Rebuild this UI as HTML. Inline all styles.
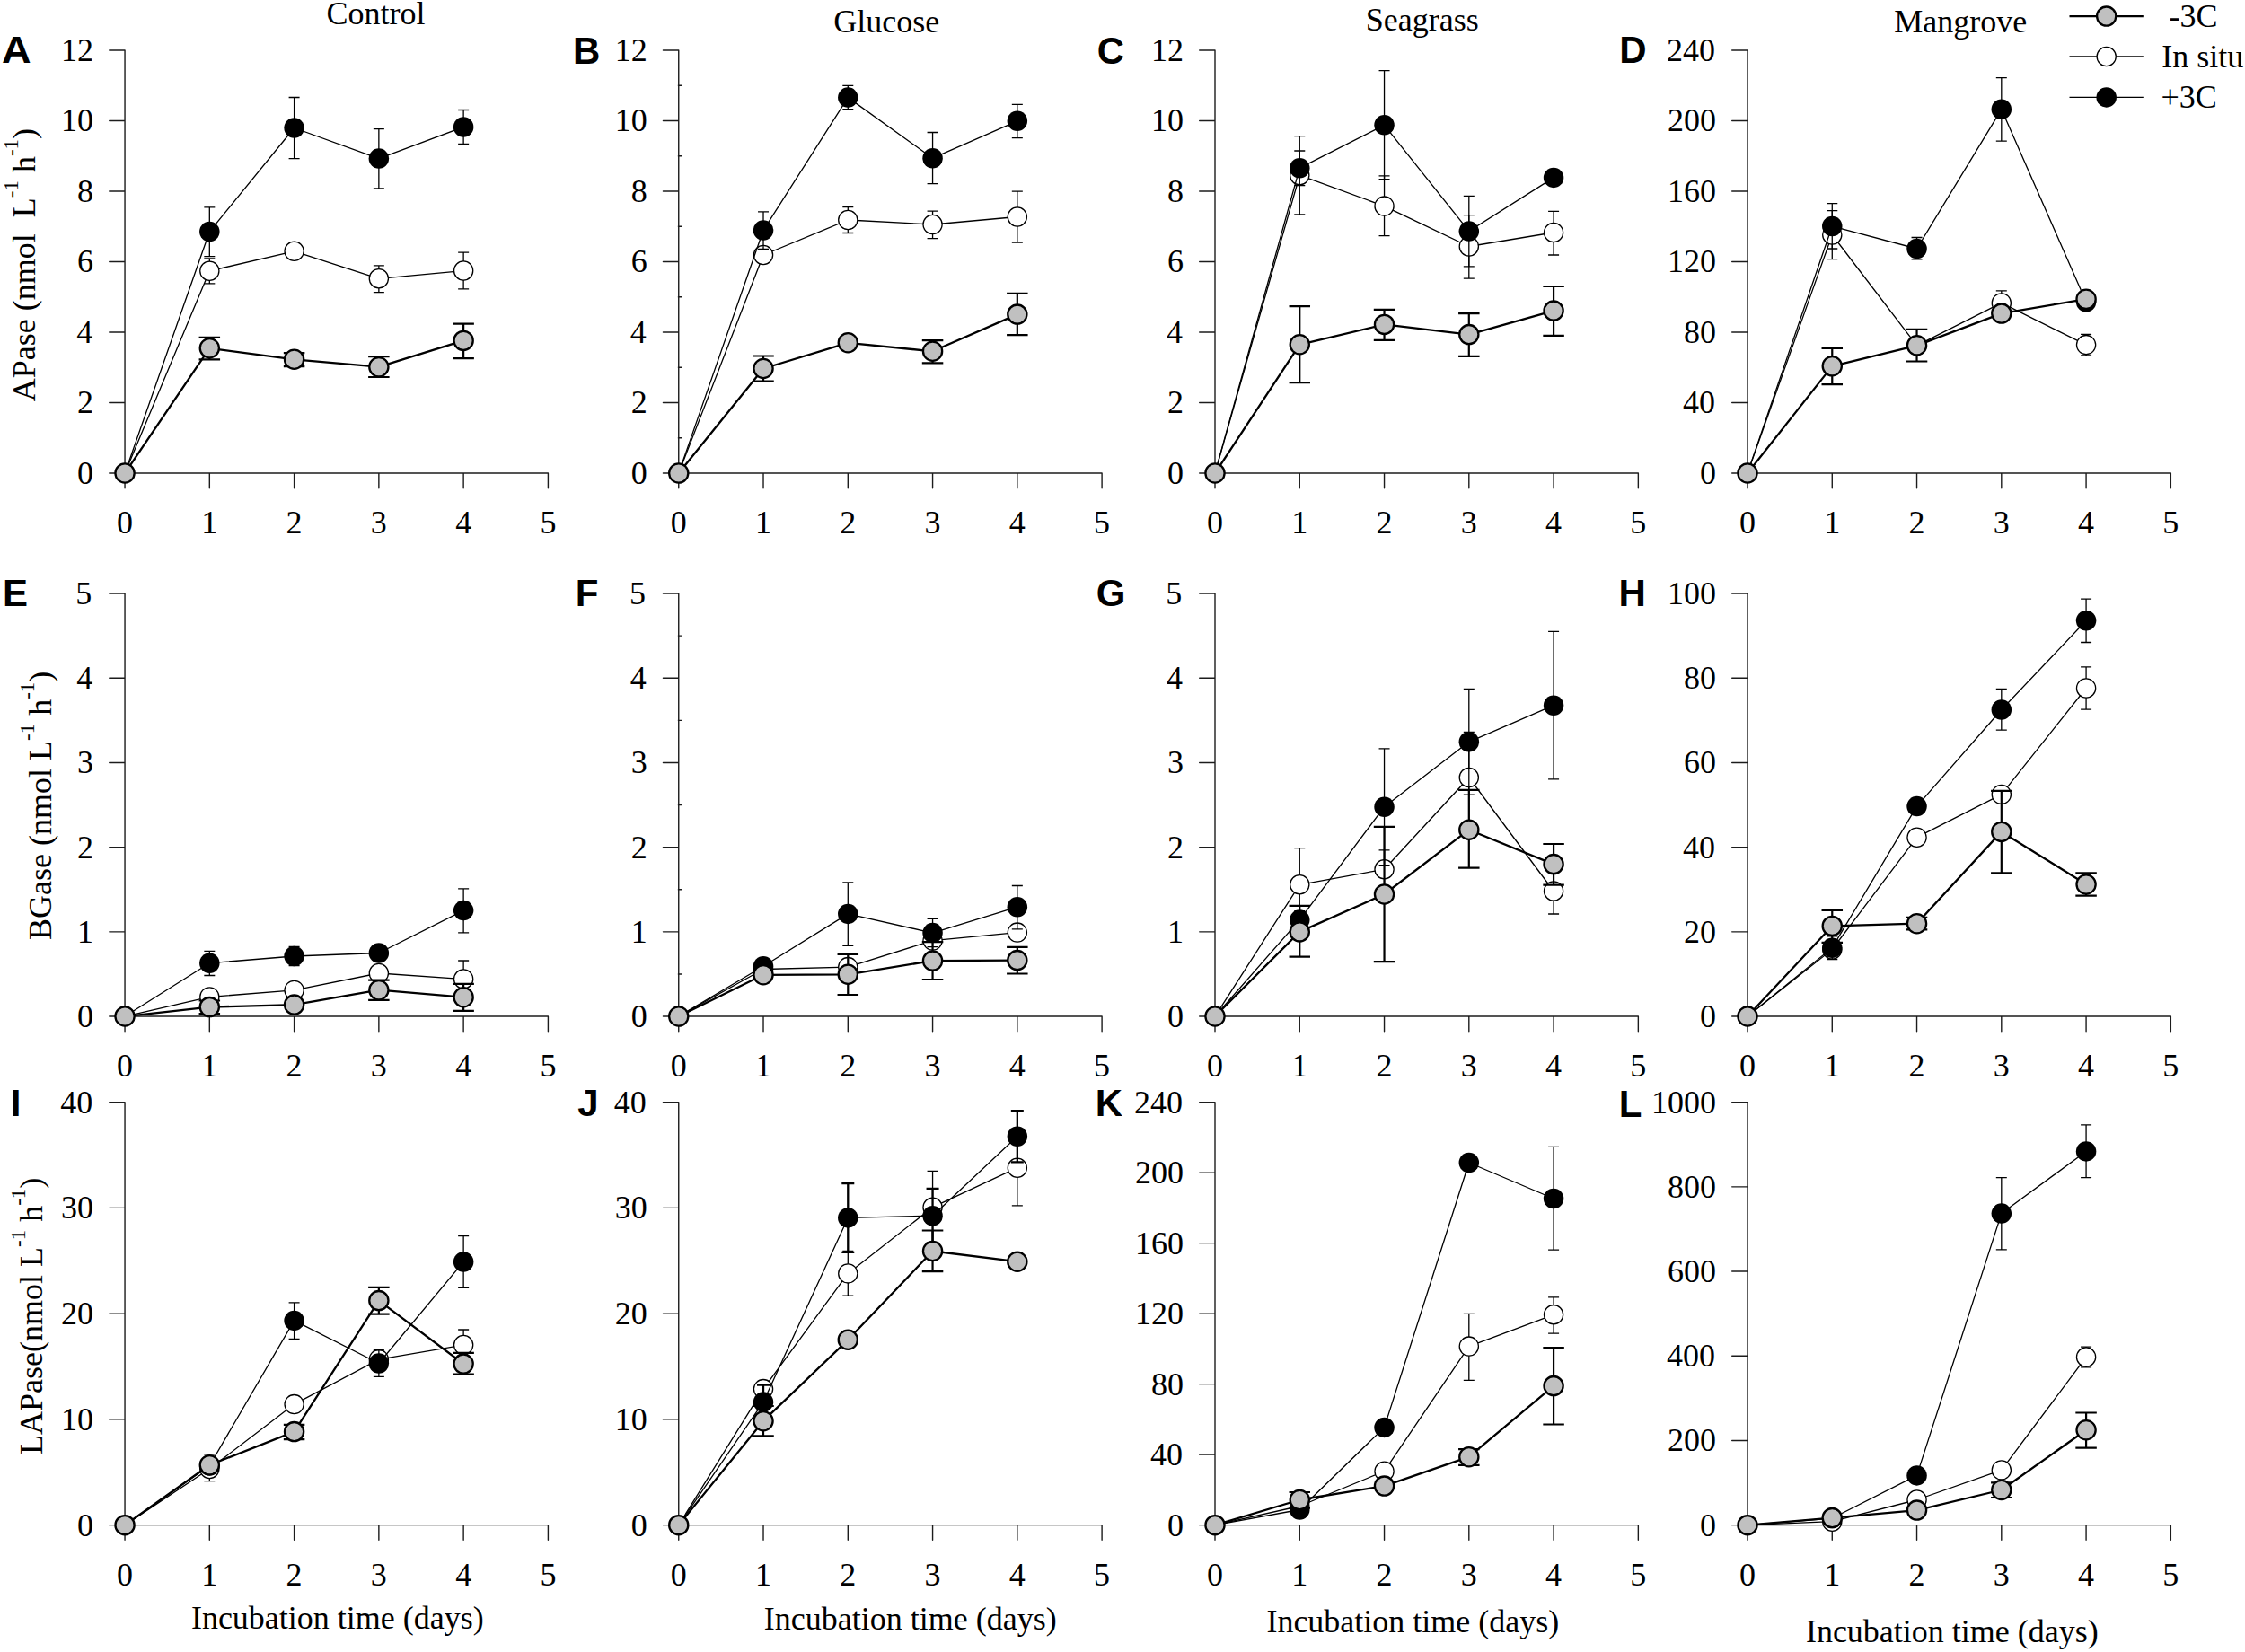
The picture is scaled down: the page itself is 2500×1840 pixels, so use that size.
<!DOCTYPE html>
<html lang="en"><head><meta charset="utf-8"><title>Enzyme activities</title>
<style>html,body{margin:0;padding:0;background:#fff}svg{display:block}text{font-family:'Liberation Serif', 'Times New Roman', Times, serif;font-size:36px;fill:#000}.pl{font-family:'Liberation Sans', Arial, Helvetica, sans-serif;font-weight:bold;font-size:42px}</style></head><body>
<svg width="2500" height="1840" viewBox="0 0 2500 1840">
<rect width="2500" height="1840" fill="#fff"/>
<g id="panel-A">
<path d="M139.05 56.05V543.75M121.75 527.05H610.4M121.75 448.55H139.05M121.75 370.05H139.05M121.75 291.55H139.05M121.75 213.05H139.05M121.75 134.55H139.05M121.75 56.05H139.05M233.32 527.05V543.75M327.59 527.05V543.75M421.86 527.05V543.75M516.13 527.05V543.75M610.4 527.05V543.75" fill="none" stroke="#1c1c1c" stroke-width="1.4" stroke-linecap="round" stroke-linejoin="round"/>
<text x="103.95" y="538.95" text-anchor="end">0</text>
<text x="103.95" y="460.45" text-anchor="end">2</text>
<text x="103.15" y="381.95" text-anchor="end">4</text>
<text x="103.95" y="303.45" text-anchor="end">6</text>
<text x="103.95" y="224.95" text-anchor="end">8</text>
<text x="103.95" y="146.45" text-anchor="end">10</text>
<text x="103.95" y="67.95" text-anchor="end">12</text>
<text x="139.05" y="594.35" text-anchor="middle">0</text>
<text x="233.32" y="594.35" text-anchor="middle">1</text>
<text x="327.59" y="594.35" text-anchor="middle">2</text>
<text x="421.86" y="594.35" text-anchor="middle">3</text>
<text x="516.13" y="594.35" text-anchor="middle">4</text>
<text x="610.4" y="594.35" text-anchor="middle">5</text>
<polyline points="139.05,527.05 233.32,301.8 327.59,279.8 421.86,310.3 516.13,301.5" fill="none" stroke="#000" stroke-width="1.3" stroke-linejoin="round"/>
<path d="M233.32 288V315.8M227.32 288H239.32M227.32 315.8H239.32M421.86 295.9V325.6M415.86 295.9H427.86M415.86 325.6H427.86M516.13 281.2V321.9M510.13 281.2H522.13M510.13 321.9H522.13" fill="none" stroke="#000" stroke-width="1.3"/>
<circle cx="233.32" cy="301.8" r="10.6" fill="#fff" stroke="#000" stroke-width="1.3"/>
<circle cx="327.59" cy="279.8" r="10.6" fill="#fff" stroke="#000" stroke-width="1.3"/>
<circle cx="421.86" cy="310.3" r="10.6" fill="#fff" stroke="#000" stroke-width="1.3"/>
<circle cx="516.13" cy="301.5" r="10.6" fill="#fff" stroke="#000" stroke-width="1.3"/>
<path d="M233.32 375.8V400.4M221.57 375.8H245.07M221.57 400.4H245.07M327.59 393.1V408.2M315.84 393.1H339.34M315.84 408.2H339.34M421.86 397.2V420M410.11 397.2H433.61M410.11 420H433.61M516.13 360.6V399.1M504.38 360.6H527.88M504.38 399.1H527.88" fill="none" stroke="#000" stroke-width="2.2"/>
<polyline points="139.05,527.05 233.32,258 327.59,142.5 421.86,176.6 516.13,141.5" fill="none" stroke="#000" stroke-width="1.3" stroke-linejoin="round"/>
<path d="M233.32 230.8V285.7M227.32 230.8H239.32M227.32 285.7H239.32M327.59 108.5V176.6M321.59 108.5H333.59M321.59 176.6H333.59M421.86 143.6V209.9M415.86 143.6H427.86M415.86 209.9H427.86M516.13 122.5V160.4M510.13 122.5H522.13M510.13 160.4H522.13" fill="none" stroke="#000" stroke-width="1.3"/>
<circle cx="233.32" cy="258" r="11.25" fill="#000"/>
<circle cx="327.59" cy="142.5" r="11.25" fill="#000"/>
<circle cx="421.86" cy="176.6" r="11.25" fill="#000"/>
<circle cx="516.13" cy="141.5" r="11.25" fill="#000"/>
<polyline points="139.05,527.05 233.32,387.8 327.59,400.3 421.86,408.7 516.13,379.4" fill="none" stroke="#000" stroke-width="2.3" stroke-linejoin="round"/>
<circle cx="139.05" cy="527.05" r="10.6" fill="#c0c0c0" stroke="#000" stroke-width="2.3"/>
<circle cx="233.32" cy="387.8" r="10.6" fill="#c0c0c0" stroke="#000" stroke-width="2.3"/>
<circle cx="327.59" cy="400.3" r="10.6" fill="#c0c0c0" stroke="#000" stroke-width="2.3"/>
<circle cx="421.86" cy="408.7" r="10.6" fill="#c0c0c0" stroke="#000" stroke-width="2.3"/>
<circle cx="516.13" cy="379.4" r="10.6" fill="#c0c0c0" stroke="#000" stroke-width="2.3"/>
<text class="pl" x="2" y="70.4" textLength="32.6" lengthAdjust="spacingAndGlyphs">A</text>
</g>
<g id="panel-B">
<path d="M755.75 56.05V543.75M738.45 527.05H1227.1M738.45 448.55H755.75M738.45 370.05H755.75M738.45 291.55H755.75M738.45 213.05H755.75M738.45 134.55H755.75M738.45 56.05H755.75M850.02 527.05V543.75M944.29 527.05V543.75M1038.56 527.05V543.75M1132.83 527.05V543.75M1227.1 527.05V543.75" fill="none" stroke="#1c1c1c" stroke-width="1.4" stroke-linecap="round" stroke-linejoin="round"/>
<path d="M754.85 487.8H759.35M754.85 409.3H759.35M754.85 330.8H759.35M754.85 252.3H759.35M754.85 173.8H759.35M754.85 95.3H759.35" fill="none" stroke="#1c1c1c" stroke-width="1.4"/>
<text x="720.65" y="538.95" text-anchor="end">0</text>
<text x="720.65" y="460.45" text-anchor="end">2</text>
<text x="719.85" y="381.95" text-anchor="end">4</text>
<text x="720.65" y="303.45" text-anchor="end">6</text>
<text x="720.65" y="224.95" text-anchor="end">8</text>
<text x="720.65" y="146.45" text-anchor="end">10</text>
<text x="720.65" y="67.95" text-anchor="end">12</text>
<text x="755.75" y="594.35" text-anchor="middle">0</text>
<text x="850.02" y="594.35" text-anchor="middle">1</text>
<text x="944.29" y="594.35" text-anchor="middle">2</text>
<text x="1038.56" y="594.35" text-anchor="middle">3</text>
<text x="1132.83" y="594.35" text-anchor="middle">4</text>
<text x="1227.1" y="594.35" text-anchor="middle">5</text>
<polyline points="755.75,527.05 850.02,284 944.29,245 1038.56,250 1132.83,241.5" fill="none" stroke="#000" stroke-width="1.3" stroke-linejoin="round"/>
<path d="M944.29 230.6V259.5M938.29 230.6H950.29M938.29 259.5H950.29M1038.56 235.1V265.7M1032.56 235.1H1044.56M1032.56 265.7H1044.56M1132.83 213.1V270.2M1126.83 213.1H1138.83M1126.83 270.2H1138.83" fill="none" stroke="#000" stroke-width="1.3"/>
<circle cx="850.02" cy="284" r="10.6" fill="#fff" stroke="#000" stroke-width="1.3"/>
<circle cx="944.29" cy="245" r="10.6" fill="#fff" stroke="#000" stroke-width="1.3"/>
<circle cx="1038.56" cy="250" r="10.6" fill="#fff" stroke="#000" stroke-width="1.3"/>
<circle cx="1132.83" cy="241.5" r="10.6" fill="#fff" stroke="#000" stroke-width="1.3"/>
<path d="M850.02 396.5V424.7M838.27 396.5H861.77M838.27 424.7H861.77M1038.56 379.1V404.3M1026.81 379.1H1050.31M1026.81 404.3H1050.31M1132.83 326.9V373.1M1121.08 326.9H1144.58M1121.08 373.1H1144.58" fill="none" stroke="#000" stroke-width="2.2"/>
<polyline points="755.75,527.05 850.02,256.5 944.29,108.6 1038.56,176.2 1132.83,134.8" fill="none" stroke="#000" stroke-width="1.3" stroke-linejoin="round"/>
<path d="M850.02 235.8V277.5M844.02 235.8H856.02M844.02 277.5H856.02M944.29 95.4V121.6M938.29 95.4H950.29M938.29 121.6H950.29M1038.56 147.5V204.6M1032.56 147.5H1044.56M1032.56 204.6H1044.56M1132.83 116.3V153.7M1126.83 116.3H1138.83M1126.83 153.7H1138.83" fill="none" stroke="#000" stroke-width="1.3"/>
<circle cx="850.02" cy="256.5" r="11.25" fill="#000"/>
<circle cx="944.29" cy="108.6" r="11.25" fill="#000"/>
<circle cx="1038.56" cy="176.2" r="11.25" fill="#000"/>
<circle cx="1132.83" cy="134.8" r="11.25" fill="#000"/>
<polyline points="755.75,527.05 850.02,410.5 944.29,381.8 1038.56,391.3 1132.83,350.1" fill="none" stroke="#000" stroke-width="2.3" stroke-linejoin="round"/>
<circle cx="755.75" cy="527.05" r="10.6" fill="#c0c0c0" stroke="#000" stroke-width="2.3"/>
<circle cx="850.02" cy="410.5" r="10.6" fill="#c0c0c0" stroke="#000" stroke-width="2.3"/>
<circle cx="944.29" cy="381.8" r="10.6" fill="#c0c0c0" stroke="#000" stroke-width="2.3"/>
<circle cx="1038.56" cy="391.3" r="10.6" fill="#c0c0c0" stroke="#000" stroke-width="2.3"/>
<circle cx="1132.83" cy="350.1" r="10.6" fill="#c0c0c0" stroke="#000" stroke-width="2.3"/>
<text class="pl" x="637.9" y="70.6">B</text>
</g>
<g id="panel-C">
<path d="M1353 56.05V543.75M1335.7 527.05H1824.35M1335.7 448.55H1353M1335.7 370.05H1353M1335.7 291.55H1353M1335.7 213.05H1353M1335.7 134.55H1353M1335.7 56.05H1353M1447.27 527.05V543.75M1541.54 527.05V543.75M1635.81 527.05V543.75M1730.08 527.05V543.75M1824.35 527.05V543.75" fill="none" stroke="#1c1c1c" stroke-width="1.4" stroke-linecap="round" stroke-linejoin="round"/>
<text x="1317.9" y="538.95" text-anchor="end">0</text>
<text x="1317.9" y="460.45" text-anchor="end">2</text>
<text x="1317.1" y="381.95" text-anchor="end">4</text>
<text x="1317.9" y="303.45" text-anchor="end">6</text>
<text x="1317.9" y="224.95" text-anchor="end">8</text>
<text x="1317.9" y="146.45" text-anchor="end">10</text>
<text x="1317.9" y="67.95" text-anchor="end">12</text>
<text x="1353" y="594.35" text-anchor="middle">0</text>
<text x="1447.27" y="594.35" text-anchor="middle">1</text>
<text x="1541.54" y="594.35" text-anchor="middle">2</text>
<text x="1635.81" y="594.35" text-anchor="middle">3</text>
<text x="1730.08" y="594.35" text-anchor="middle">4</text>
<text x="1824.35" y="594.35" text-anchor="middle">5</text>
<polyline points="1353,527.05 1447.27,195.2 1541.54,229.6 1635.81,274.5 1730.08,259" fill="none" stroke="#000" stroke-width="1.3" stroke-linejoin="round"/>
<path d="M1447.27 151.7V238.8M1441.27 151.7H1453.27M1441.27 238.8H1453.27M1541.54 195.9V262.7M1535.54 195.9H1547.54M1535.54 262.7H1547.54M1635.81 239.6V310.1M1629.81 239.6H1641.81M1629.81 310.1H1641.81M1730.08 235.3V284M1724.08 235.3H1736.08M1724.08 284H1736.08" fill="none" stroke="#000" stroke-width="1.3"/>
<circle cx="1447.27" cy="195.2" r="10.6" fill="#fff" stroke="#000" stroke-width="1.3"/>
<circle cx="1541.54" cy="229.6" r="10.6" fill="#fff" stroke="#000" stroke-width="1.3"/>
<circle cx="1635.81" cy="274.5" r="10.6" fill="#fff" stroke="#000" stroke-width="1.3"/>
<circle cx="1730.08" cy="259" r="10.6" fill="#fff" stroke="#000" stroke-width="1.3"/>
<path d="M1447.27 341.2V426.2M1435.52 341.2H1459.02M1435.52 426.2H1459.02M1541.54 344.9V378.8M1529.79 344.9H1553.29M1529.79 378.8H1553.29M1635.81 349.1V396.8M1624.06 349.1H1647.56M1624.06 396.8H1647.56M1730.08 319V373.8M1718.33 319H1741.83M1718.33 373.8H1741.83" fill="none" stroke="#000" stroke-width="2.2"/>
<polyline points="1353,527.05 1447.27,187.2 1541.54,139.3 1635.81,257.5 1730.08,197.9" fill="none" stroke="#000" stroke-width="1.3" stroke-linejoin="round"/>
<path d="M1447.27 168V206.6M1441.27 168H1453.27M1441.27 206.6H1453.27M1541.54 78.7V199.6M1535.54 78.7H1547.54M1535.54 199.6H1547.54M1635.81 218.3V296.9M1629.81 218.3H1641.81M1629.81 296.9H1641.81" fill="none" stroke="#000" stroke-width="1.3"/>
<circle cx="1447.27" cy="187.2" r="11.25" fill="#000"/>
<circle cx="1541.54" cy="139.3" r="11.25" fill="#000"/>
<circle cx="1635.81" cy="257.5" r="11.25" fill="#000"/>
<circle cx="1730.08" cy="197.9" r="11.25" fill="#000"/>
<polyline points="1353,527.05 1447.27,383.8 1541.54,361.4 1635.81,372.6 1730.08,346.1" fill="none" stroke="#000" stroke-width="2.3" stroke-linejoin="round"/>
<circle cx="1353" cy="527.05" r="10.6" fill="#c0c0c0" stroke="#000" stroke-width="2.3"/>
<circle cx="1447.27" cy="383.8" r="10.6" fill="#c0c0c0" stroke="#000" stroke-width="2.3"/>
<circle cx="1541.54" cy="361.4" r="10.6" fill="#c0c0c0" stroke="#000" stroke-width="2.3"/>
<circle cx="1635.81" cy="372.6" r="10.6" fill="#c0c0c0" stroke="#000" stroke-width="2.3"/>
<circle cx="1730.08" cy="346.1" r="10.6" fill="#c0c0c0" stroke="#000" stroke-width="2.3"/>
<text class="pl" x="1221.8" y="70.6">C</text>
</g>
<g id="panel-D">
<path d="M1946 56.05V543.75M1928.7 527.05H2417.35M1928.7 448.55H1946M1928.7 370.05H1946M1928.7 291.55H1946M1928.7 213.05H1946M1928.7 134.55H1946M1928.7 56.05H1946M2040.27 527.05V543.75M2134.54 527.05V543.75M2228.81 527.05V543.75M2323.08 527.05V543.75M2417.35 527.05V543.75" fill="none" stroke="#1c1c1c" stroke-width="1.4" stroke-linecap="round" stroke-linejoin="round"/>
<text x="1910.9" y="538.95" text-anchor="end">0</text>
<text x="1910.1" y="460.45" text-anchor="end">40</text>
<text x="1910.9" y="381.95" text-anchor="end">80</text>
<text x="1910.9" y="303.45" text-anchor="end">120</text>
<text x="1910.9" y="224.95" text-anchor="end">160</text>
<text x="1910.9" y="146.45" text-anchor="end">200</text>
<text x="1910.1" y="67.95" text-anchor="end">240</text>
<text x="1946" y="594.35" text-anchor="middle">0</text>
<text x="2040.27" y="594.35" text-anchor="middle">1</text>
<text x="2134.54" y="594.35" text-anchor="middle">2</text>
<text x="2228.81" y="594.35" text-anchor="middle">3</text>
<text x="2323.08" y="594.35" text-anchor="middle">4</text>
<text x="2417.35" y="594.35" text-anchor="middle">5</text>
<polyline points="1946,527.05 2040.27,261.5 2134.54,384.8 2228.81,337.4 2323.08,384.1" fill="none" stroke="#000" stroke-width="1.3" stroke-linejoin="round"/>
<path d="M2040.27 234.6V288.7M2034.27 234.6H2046.27M2034.27 288.7H2046.27M2228.81 323.9V350.9M2222.81 323.9H2234.81M2222.81 350.9H2234.81M2323.08 372.3V396M2317.08 372.3H2329.08M2317.08 396H2329.08" fill="none" stroke="#000" stroke-width="1.3"/>
<circle cx="2040.27" cy="261.5" r="10.6" fill="#fff" stroke="#000" stroke-width="1.3"/>
<circle cx="2134.54" cy="384.8" r="10.6" fill="#fff" stroke="#000" stroke-width="1.3"/>
<circle cx="2228.81" cy="337.4" r="10.6" fill="#fff" stroke="#000" stroke-width="1.3"/>
<circle cx="2323.08" cy="384.1" r="10.6" fill="#fff" stroke="#000" stroke-width="1.3"/>
<path d="M2040.27 387.8V428.2M2028.52 387.8H2052.02M2028.52 428.2H2052.02M2134.54 366.8V402.5M2122.79 366.8H2146.29M2122.79 402.5H2146.29" fill="none" stroke="#000" stroke-width="2.2"/>
<polyline points="1946,527.05 2040.27,252 2134.54,277 2228.81,121.8 2323.08,336.2" fill="none" stroke="#000" stroke-width="1.3" stroke-linejoin="round"/>
<path d="M2040.27 226.6V277M2034.27 226.6H2046.27M2034.27 277H2046.27M2134.54 264.5V288.9M2128.54 264.5H2140.54M2128.54 288.9H2140.54M2228.81 86.6V157.2M2222.81 86.6H2234.81M2222.81 157.2H2234.81" fill="none" stroke="#000" stroke-width="1.3"/>
<circle cx="2040.27" cy="252" r="11.25" fill="#000"/>
<circle cx="2134.54" cy="277" r="11.25" fill="#000"/>
<circle cx="2228.81" cy="121.8" r="11.25" fill="#000"/>
<circle cx="2323.08" cy="336.2" r="11.25" fill="#000"/>
<polyline points="1946,527.05 2040.27,407.8 2134.54,384.8 2228.81,349.1 2323.08,333.2" fill="none" stroke="#000" stroke-width="2.3" stroke-linejoin="round"/>
<circle cx="1946" cy="527.05" r="10.6" fill="#c0c0c0" stroke="#000" stroke-width="2.3"/>
<circle cx="2040.27" cy="407.8" r="10.6" fill="#c0c0c0" stroke="#000" stroke-width="2.3"/>
<circle cx="2134.54" cy="384.8" r="10.6" fill="#c0c0c0" stroke="#000" stroke-width="2.3"/>
<circle cx="2228.81" cy="349.1" r="10.6" fill="#c0c0c0" stroke="#000" stroke-width="2.3"/>
<circle cx="2323.08" cy="333.2" r="10.6" fill="#c0c0c0" stroke="#000" stroke-width="2.3"/>
<text class="pl" x="1803.3" y="70.4">D</text>
</g>
<g id="panel-E">
<path d="M139.05 661.05V1148.75M121.75 1132.05H610.4M121.75 1037.85H139.05M121.75 943.65H139.05M121.75 849.45H139.05M121.75 755.25H139.05M121.75 661.05H139.05M233.32 1132.05V1148.75M327.59 1132.05V1148.75M421.86 1132.05V1148.75M516.13 1132.05V1148.75M610.4 1132.05V1148.75" fill="none" stroke="#1c1c1c" stroke-width="1.4" stroke-linecap="round" stroke-linejoin="round"/>
<text x="103.95" y="1143.95" text-anchor="end">0</text>
<text x="103.95" y="1049.75" text-anchor="end">1</text>
<text x="103.95" y="955.55" text-anchor="end">2</text>
<text x="103.95" y="861.35" text-anchor="end">3</text>
<text x="103.15" y="767.15" text-anchor="end">4</text>
<text x="102.35" y="672.95" text-anchor="end">5</text>
<text x="139.05" y="1199.35" text-anchor="middle">0</text>
<text x="233.32" y="1199.35" text-anchor="middle">1</text>
<text x="327.59" y="1199.35" text-anchor="middle">2</text>
<text x="421.86" y="1199.35" text-anchor="middle">3</text>
<text x="516.13" y="1199.35" text-anchor="middle">4</text>
<text x="610.4" y="1199.35" text-anchor="middle">5</text>
<polyline points="139.05,1132.05 233.32,1110.4 327.59,1102.9 421.86,1084 516.13,1090.5" fill="none" stroke="#000" stroke-width="1.3" stroke-linejoin="round"/>
<path d="M516.13 1070V1110.9M510.13 1070H522.13M510.13 1110.9H522.13" fill="none" stroke="#000" stroke-width="1.3"/>
<circle cx="233.32" cy="1110.4" r="10.6" fill="#fff" stroke="#000" stroke-width="1.3"/>
<circle cx="327.59" cy="1102.9" r="10.6" fill="#fff" stroke="#000" stroke-width="1.3"/>
<circle cx="421.86" cy="1084" r="10.6" fill="#fff" stroke="#000" stroke-width="1.3"/>
<circle cx="516.13" cy="1090.5" r="10.6" fill="#fff" stroke="#000" stroke-width="1.3"/>
<path d="M233.32 1114.5V1129M221.57 1114.5H245.07M221.57 1129H245.07M421.86 1091.7V1113.9M410.11 1091.7H433.61M410.11 1113.9H433.61M516.13 1095.9V1125.9M504.38 1095.9H527.88M504.38 1125.9H527.88" fill="none" stroke="#000" stroke-width="2.2"/>
<polyline points="139.05,1132.05 233.32,1072.7 327.59,1065 421.86,1061.5 516.13,1014.1" fill="none" stroke="#000" stroke-width="1.3" stroke-linejoin="round"/>
<path d="M233.32 1059.3V1086.5M227.32 1059.3H239.32M227.32 1086.5H239.32M327.59 1054.3V1075.7M321.59 1054.3H333.59M321.59 1075.7H333.59M516.13 989.9V1038.8M510.13 989.9H522.13M510.13 1038.8H522.13" fill="none" stroke="#000" stroke-width="1.3"/>
<circle cx="233.32" cy="1072.7" r="11.25" fill="#000"/>
<circle cx="327.59" cy="1065" r="11.25" fill="#000"/>
<circle cx="421.86" cy="1061.5" r="11.25" fill="#000"/>
<circle cx="516.13" cy="1014.1" r="11.25" fill="#000"/>
<polyline points="139.05,1132.05 233.32,1121.6 327.59,1119.1 421.86,1102.7 516.13,1110.7" fill="none" stroke="#000" stroke-width="2.3" stroke-linejoin="round"/>
<circle cx="139.05" cy="1132.05" r="10.6" fill="#c0c0c0" stroke="#000" stroke-width="2.3"/>
<circle cx="233.32" cy="1121.6" r="10.6" fill="#c0c0c0" stroke="#000" stroke-width="2.3"/>
<circle cx="327.59" cy="1119.1" r="10.6" fill="#c0c0c0" stroke="#000" stroke-width="2.3"/>
<circle cx="421.86" cy="1102.7" r="10.6" fill="#c0c0c0" stroke="#000" stroke-width="2.3"/>
<circle cx="516.13" cy="1110.7" r="10.6" fill="#c0c0c0" stroke="#000" stroke-width="2.3"/>
<text class="pl" x="2.9" y="674.6">E</text>
</g>
<g id="panel-F">
<path d="M755.75 661.05V1148.75M738.45 1132.05H1227.1M738.45 1037.85H755.75M738.45 943.65H755.75M738.45 849.45H755.75M738.45 755.25H755.75M738.45 661.05H755.75M850.02 1132.05V1148.75M944.29 1132.05V1148.75M1038.56 1132.05V1148.75M1132.83 1132.05V1148.75M1227.1 1132.05V1148.75" fill="none" stroke="#1c1c1c" stroke-width="1.4" stroke-linecap="round" stroke-linejoin="round"/>
<path d="M754.85 1084.95H759.35M754.85 990.75H759.35M754.85 896.55H759.35M754.85 802.35H759.35M754.85 708.15H759.35" fill="none" stroke="#1c1c1c" stroke-width="1.4"/>
<text x="720.65" y="1143.95" text-anchor="end">0</text>
<text x="720.65" y="1049.75" text-anchor="end">1</text>
<text x="720.65" y="955.55" text-anchor="end">2</text>
<text x="720.65" y="861.35" text-anchor="end">3</text>
<text x="719.85" y="767.15" text-anchor="end">4</text>
<text x="719.05" y="672.95" text-anchor="end">5</text>
<text x="755.75" y="1199.35" text-anchor="middle">0</text>
<text x="850.02" y="1199.35" text-anchor="middle">1</text>
<text x="944.29" y="1199.35" text-anchor="middle">2</text>
<text x="1038.56" y="1199.35" text-anchor="middle">3</text>
<text x="1132.83" y="1199.35" text-anchor="middle">4</text>
<text x="1227.1" y="1199.35" text-anchor="middle">5</text>
<polyline points="755.75,1132.05 850.02,1079.5 944.29,1077.1 1038.56,1047.6 1132.83,1038.6" fill="none" stroke="#000" stroke-width="1.3" stroke-linejoin="round"/>
<circle cx="850.02" cy="1079.5" r="10.6" fill="#fff" stroke="#000" stroke-width="1.3"/>
<circle cx="944.29" cy="1077.1" r="10.6" fill="#fff" stroke="#000" stroke-width="1.3"/>
<circle cx="1038.56" cy="1047.6" r="10.6" fill="#fff" stroke="#000" stroke-width="1.3"/>
<circle cx="1132.83" cy="1038.6" r="10.6" fill="#fff" stroke="#000" stroke-width="1.3"/>
<path d="M944.29 1062.8V1108M932.54 1062.8H956.04M932.54 1108H956.04M1038.56 1049.1V1091M1026.81 1049.1H1050.31M1026.81 1091H1050.31M1132.83 1054.9V1084.5M1121.08 1054.9H1144.58M1121.08 1084.5H1144.58" fill="none" stroke="#000" stroke-width="2.2"/>
<polyline points="755.75,1132.05 850.02,1076.3 944.29,1017.9 1038.56,1039.1 1132.83,1010.2" fill="none" stroke="#000" stroke-width="1.3" stroke-linejoin="round"/>
<path d="M944.29 982.8V1053.4M938.29 982.8H950.29M938.29 1053.4H950.29M1038.56 1023.4V1054.6M1032.56 1023.4H1044.56M1032.56 1054.6H1044.56M1132.83 986.5V1034.9M1126.83 986.5H1138.83M1126.83 1034.9H1138.83" fill="none" stroke="#000" stroke-width="1.3"/>
<circle cx="850.02" cy="1076.3" r="11.25" fill="#000"/>
<circle cx="944.29" cy="1017.9" r="11.25" fill="#000"/>
<circle cx="1038.56" cy="1039.1" r="11.25" fill="#000"/>
<circle cx="1132.83" cy="1010.2" r="11.25" fill="#000"/>
<polyline points="755.75,1132.05 850.02,1085.8 944.29,1085.3 1038.56,1070.1 1132.83,1069.6" fill="none" stroke="#000" stroke-width="2.3" stroke-linejoin="round"/>
<circle cx="755.75" cy="1132.05" r="10.6" fill="#c0c0c0" stroke="#000" stroke-width="2.3"/>
<circle cx="850.02" cy="1085.8" r="10.6" fill="#c0c0c0" stroke="#000" stroke-width="2.3"/>
<circle cx="944.29" cy="1085.3" r="10.6" fill="#c0c0c0" stroke="#000" stroke-width="2.3"/>
<circle cx="1038.56" cy="1070.1" r="10.6" fill="#c0c0c0" stroke="#000" stroke-width="2.3"/>
<circle cx="1132.83" cy="1069.6" r="10.6" fill="#c0c0c0" stroke="#000" stroke-width="2.3"/>
<text class="pl" x="640.8" y="675">F</text>
</g>
<g id="panel-G">
<path d="M1353 661.05V1148.75M1335.7 1132.05H1824.35M1335.7 1037.85H1353M1335.7 943.65H1353M1335.7 849.45H1353M1335.7 755.25H1353M1335.7 661.05H1353M1447.27 1132.05V1148.75M1541.54 1132.05V1148.75M1635.81 1132.05V1148.75M1730.08 1132.05V1148.75M1824.35 1132.05V1148.75" fill="none" stroke="#1c1c1c" stroke-width="1.4" stroke-linecap="round" stroke-linejoin="round"/>
<text x="1317.9" y="1143.95" text-anchor="end">0</text>
<text x="1317.9" y="1049.75" text-anchor="end">1</text>
<text x="1317.9" y="955.55" text-anchor="end">2</text>
<text x="1317.9" y="861.35" text-anchor="end">3</text>
<text x="1317.1" y="767.15" text-anchor="end">4</text>
<text x="1316.3" y="672.95" text-anchor="end">5</text>
<text x="1353" y="1199.35" text-anchor="middle">0</text>
<text x="1447.27" y="1199.35" text-anchor="middle">1</text>
<text x="1541.54" y="1199.35" text-anchor="middle">2</text>
<text x="1635.81" y="1199.35" text-anchor="middle">3</text>
<text x="1730.08" y="1199.35" text-anchor="middle">4</text>
<text x="1824.35" y="1199.35" text-anchor="middle">5</text>
<polyline points="1353,1132.05 1447.27,985.3 1541.54,968.3 1635.81,866 1730.08,992.5" fill="none" stroke="#000" stroke-width="1.3" stroke-linejoin="round"/>
<path d="M1447.27 944.7V1025.9M1441.27 944.7H1453.27M1441.27 1025.9H1453.27M1541.54 946.9V989.7M1535.54 946.9H1547.54M1535.54 989.7H1547.54M1635.81 815.3V916.7M1629.81 815.3H1641.81M1629.81 916.7H1641.81M1730.08 967V1018M1724.08 967H1736.08M1724.08 1018H1736.08" fill="none" stroke="#000" stroke-width="1.3"/>
<circle cx="1447.27" cy="985.3" r="10.6" fill="#fff" stroke="#000" stroke-width="1.3"/>
<circle cx="1541.54" cy="968.3" r="10.6" fill="#fff" stroke="#000" stroke-width="1.3"/>
<circle cx="1635.81" cy="866" r="10.6" fill="#fff" stroke="#000" stroke-width="1.3"/>
<circle cx="1730.08" cy="992.5" r="10.6" fill="#fff" stroke="#000" stroke-width="1.3"/>
<path d="M1447.27 1008.9V1065.6M1435.52 1008.9H1459.02M1435.52 1065.6H1459.02M1541.54 920.8V1071.2M1529.79 920.8H1553.29M1529.79 1071.2H1553.29M1635.81 879.8V966.7M1624.06 879.8H1647.56M1624.06 966.7H1647.56M1730.08 940V985.6M1718.33 940H1741.83M1718.33 985.6H1741.83" fill="none" stroke="#000" stroke-width="2.2"/>
<polyline points="1353,1132.05 1447.27,1024.6 1541.54,898.7 1635.81,826.3 1730.08,785.7" fill="none" stroke="#000" stroke-width="1.3" stroke-linejoin="round"/>
<path d="M1447.27 1014.6V1034.6M1441.27 1014.6H1453.27M1441.27 1034.6H1453.27M1541.54 833.9V963.6M1535.54 833.9H1547.54M1535.54 963.6H1547.54M1635.81 767.5V885.2M1629.81 767.5H1641.81M1629.81 885.2H1641.81M1730.08 703.3V867.9M1724.08 703.3H1736.08M1724.08 867.9H1736.08" fill="none" stroke="#000" stroke-width="1.3"/>
<circle cx="1447.27" cy="1024.6" r="11.25" fill="#000"/>
<circle cx="1541.54" cy="898.7" r="11.25" fill="#000"/>
<circle cx="1635.81" cy="826.3" r="11.25" fill="#000"/>
<circle cx="1730.08" cy="785.7" r="11.25" fill="#000"/>
<polyline points="1353,1132.05 1447.27,1037.9 1541.54,996 1635.81,924.2 1730.08,962.6" fill="none" stroke="#000" stroke-width="2.3" stroke-linejoin="round"/>
<circle cx="1353" cy="1132.05" r="10.6" fill="#c0c0c0" stroke="#000" stroke-width="2.3"/>
<circle cx="1447.27" cy="1037.9" r="10.6" fill="#c0c0c0" stroke="#000" stroke-width="2.3"/>
<circle cx="1541.54" cy="996" r="10.6" fill="#c0c0c0" stroke="#000" stroke-width="2.3"/>
<circle cx="1635.81" cy="924.2" r="10.6" fill="#c0c0c0" stroke="#000" stroke-width="2.3"/>
<circle cx="1730.08" cy="962.6" r="10.6" fill="#c0c0c0" stroke="#000" stroke-width="2.3"/>
<text class="pl" x="1220.7" y="675">G</text>
</g>
<g id="panel-H">
<path d="M1946 661.05V1148.75M1928.7 1132.05H2417.35M1928.7 1037.85H1946M1928.7 943.65H1946M1928.7 849.45H1946M1928.7 755.25H1946M1928.7 661.05H1946M2040.27 1132.05V1148.75M2134.54 1132.05V1148.75M2228.81 1132.05V1148.75M2323.08 1132.05V1148.75M2417.35 1132.05V1148.75" fill="none" stroke="#1c1c1c" stroke-width="1.4" stroke-linecap="round" stroke-linejoin="round"/>
<text x="1910.9" y="1143.95" text-anchor="end">0</text>
<text x="1910.9" y="1049.75" text-anchor="end">20</text>
<text x="1910.1" y="955.55" text-anchor="end">40</text>
<text x="1910.9" y="861.35" text-anchor="end">60</text>
<text x="1910.9" y="767.15" text-anchor="end">80</text>
<text x="1910.9" y="672.95" text-anchor="end">100</text>
<text x="1946" y="1199.35" text-anchor="middle">0</text>
<text x="2040.27" y="1199.35" text-anchor="middle">1</text>
<text x="2134.54" y="1199.35" text-anchor="middle">2</text>
<text x="2228.81" y="1199.35" text-anchor="middle">3</text>
<text x="2323.08" y="1199.35" text-anchor="middle">4</text>
<text x="2417.35" y="1199.35" text-anchor="middle">5</text>
<polyline points="1946,1132.05 2040.27,1057.5 2134.54,932.7 2228.81,884.9 2323.08,766.5" fill="none" stroke="#000" stroke-width="1.3" stroke-linejoin="round"/>
<path d="M2323.08 742.9V790.1M2317.08 742.9H2329.08M2317.08 790.1H2329.08" fill="none" stroke="#000" stroke-width="1.3"/>
<circle cx="2040.27" cy="1057.5" r="10.6" fill="#fff" stroke="#000" stroke-width="1.3"/>
<circle cx="2134.54" cy="932.7" r="10.6" fill="#fff" stroke="#000" stroke-width="1.3"/>
<circle cx="2228.81" cy="884.9" r="10.6" fill="#fff" stroke="#000" stroke-width="1.3"/>
<circle cx="2323.08" cy="766.5" r="10.6" fill="#fff" stroke="#000" stroke-width="1.3"/>
<path d="M2040.27 1013.9V1049.9M2028.52 1013.9H2052.02M2028.52 1049.9H2052.02M2134.54 1021.8V1035.3M2122.79 1021.8H2146.29M2122.79 1035.3H2146.29M2228.81 880.8V972.4M2217.06 880.8H2240.56M2217.06 972.4H2240.56M2323.08 972.4V997.6M2311.33 972.4H2334.83M2311.33 997.6H2334.83" fill="none" stroke="#000" stroke-width="2.2"/>
<polyline points="1946,1132.05 2040.27,1055.7 2134.54,898.1 2228.81,790.5 2323.08,691.3" fill="none" stroke="#000" stroke-width="1.3" stroke-linejoin="round"/>
<path d="M2040.27 1042.8V1068.5M2034.27 1042.8H2046.27M2034.27 1068.5H2046.27M2228.81 767.5V813.1M2222.81 767.5H2234.81M2222.81 813.1H2234.81M2323.08 667.1V715.5M2317.08 667.1H2329.08M2317.08 715.5H2329.08" fill="none" stroke="#000" stroke-width="1.3"/>
<circle cx="2040.27" cy="1055.7" r="11.25" fill="#000"/>
<circle cx="2134.54" cy="898.1" r="11.25" fill="#000"/>
<circle cx="2228.81" cy="790.5" r="11.25" fill="#000"/>
<circle cx="2323.08" cy="691.3" r="11.25" fill="#000"/>
<polyline points="1946,1132.05 2040.27,1031.4 2134.54,1028.7 2228.81,926.4 2323.08,985" fill="none" stroke="#000" stroke-width="2.3" stroke-linejoin="round"/>
<circle cx="1946" cy="1132.05" r="10.6" fill="#c0c0c0" stroke="#000" stroke-width="2.3"/>
<circle cx="2040.27" cy="1031.4" r="10.6" fill="#c0c0c0" stroke="#000" stroke-width="2.3"/>
<circle cx="2134.54" cy="1028.7" r="10.6" fill="#c0c0c0" stroke="#000" stroke-width="2.3"/>
<circle cx="2228.81" cy="926.4" r="10.6" fill="#c0c0c0" stroke="#000" stroke-width="2.3"/>
<circle cx="2323.08" cy="985" r="10.6" fill="#c0c0c0" stroke="#000" stroke-width="2.3"/>
<text class="pl" x="1802.6" y="675.2">H</text>
</g>
<g id="panel-I">
<path d="M139.05 1227.65V1715.35M121.75 1698.65H610.4M121.75 1580.9H139.05M121.75 1463.15H139.05M121.75 1345.4H139.05M121.75 1227.65H139.05M233.32 1698.65V1715.35M327.59 1698.65V1715.35M421.86 1698.65V1715.35M516.13 1698.65V1715.35M610.4 1698.65V1715.35" fill="none" stroke="#1c1c1c" stroke-width="1.4" stroke-linecap="round" stroke-linejoin="round"/>
<text x="103.95" y="1710.55" text-anchor="end">0</text>
<text x="103.95" y="1592.8" text-anchor="end">10</text>
<text x="103.95" y="1475.05" text-anchor="end">20</text>
<text x="103.95" y="1357.3" text-anchor="end">30</text>
<text x="103.15" y="1239.55" text-anchor="end">40</text>
<text x="139.05" y="1765.95" text-anchor="middle">0</text>
<text x="233.32" y="1765.95" text-anchor="middle">1</text>
<text x="327.59" y="1765.95" text-anchor="middle">2</text>
<text x="421.86" y="1765.95" text-anchor="middle">3</text>
<text x="516.13" y="1765.95" text-anchor="middle">4</text>
<text x="610.4" y="1765.95" text-anchor="middle">5</text>
<polyline points="139.05,1698.65 233.32,1636 327.59,1564.1 421.86,1514.1 516.13,1498" fill="none" stroke="#000" stroke-width="1.3" stroke-linejoin="round"/>
<path d="M233.32 1619.8V1649.7M227.32 1619.8H239.32M227.32 1649.7H239.32M516.13 1481V1515M510.13 1481H522.13M510.13 1515H522.13" fill="none" stroke="#000" stroke-width="1.3"/>
<circle cx="233.32" cy="1636" r="10.6" fill="#fff" stroke="#000" stroke-width="1.3"/>
<circle cx="327.59" cy="1564.1" r="10.6" fill="#fff" stroke="#000" stroke-width="1.3"/>
<circle cx="421.86" cy="1514.1" r="10.6" fill="#fff" stroke="#000" stroke-width="1.3"/>
<circle cx="516.13" cy="1498" r="10.6" fill="#fff" stroke="#000" stroke-width="1.3"/>
<path d="M327.59 1586.8V1603.1M315.84 1586.8H339.34M315.84 1603.1H339.34M421.86 1433.8V1463.7M410.11 1433.8H433.61M410.11 1463.7H433.61M516.13 1506.8V1530.7M504.38 1506.8H527.88M504.38 1530.7H527.88" fill="none" stroke="#000" stroke-width="2.2"/>
<polyline points="139.05,1698.65 233.32,1632.5 327.59,1470.9 421.86,1518.5 516.13,1405.5" fill="none" stroke="#000" stroke-width="1.3" stroke-linejoin="round"/>
<path d="M327.59 1450.8V1491.4M321.59 1450.8H333.59M321.59 1491.4H333.59M421.86 1503.7V1533.3M415.86 1503.7H427.86M415.86 1533.3H427.86M516.13 1376.5V1434.4M510.13 1376.5H522.13M510.13 1434.4H522.13" fill="none" stroke="#000" stroke-width="1.3"/>
<circle cx="233.32" cy="1632.5" r="11.25" fill="#000"/>
<circle cx="327.59" cy="1470.9" r="11.25" fill="#000"/>
<circle cx="421.86" cy="1518.5" r="11.25" fill="#000"/>
<circle cx="516.13" cy="1405.5" r="11.25" fill="#000"/>
<polyline points="139.05,1698.65 233.32,1631.8 327.59,1594.6 421.86,1448.6 516.13,1519.1" fill="none" stroke="#000" stroke-width="2.3" stroke-linejoin="round"/>
<circle cx="139.05" cy="1698.65" r="10.6" fill="#c0c0c0" stroke="#000" stroke-width="2.3"/>
<circle cx="233.32" cy="1631.8" r="10.6" fill="#c0c0c0" stroke="#000" stroke-width="2.3"/>
<circle cx="327.59" cy="1594.6" r="10.6" fill="#c0c0c0" stroke="#000" stroke-width="2.3"/>
<circle cx="421.86" cy="1448.6" r="10.6" fill="#c0c0c0" stroke="#000" stroke-width="2.3"/>
<circle cx="516.13" cy="1519.1" r="10.6" fill="#c0c0c0" stroke="#000" stroke-width="2.3"/>
<text class="pl" x="11.8" y="1242.6">I</text>
</g>
<g id="panel-J">
<path d="M755.75 1227.65V1715.35M738.45 1698.65H1227.1M738.45 1580.9H755.75M738.45 1463.15H755.75M738.45 1345.4H755.75M738.45 1227.65H755.75M850.02 1698.65V1715.35M944.29 1698.65V1715.35M1038.56 1698.65V1715.35M1132.83 1698.65V1715.35M1227.1 1698.65V1715.35" fill="none" stroke="#1c1c1c" stroke-width="1.4" stroke-linecap="round" stroke-linejoin="round"/>
<text x="720.65" y="1710.55" text-anchor="end">0</text>
<text x="720.65" y="1592.8" text-anchor="end">10</text>
<text x="720.65" y="1475.05" text-anchor="end">20</text>
<text x="720.65" y="1357.3" text-anchor="end">30</text>
<text x="719.85" y="1239.55" text-anchor="end">40</text>
<text x="755.75" y="1765.95" text-anchor="middle">0</text>
<text x="850.02" y="1765.95" text-anchor="middle">1</text>
<text x="944.29" y="1765.95" text-anchor="middle">2</text>
<text x="1038.56" y="1765.95" text-anchor="middle">3</text>
<text x="1132.83" y="1765.95" text-anchor="middle">4</text>
<text x="1227.1" y="1765.95" text-anchor="middle">5</text>
<polyline points="755.75,1698.65 850.02,1547.1 944.29,1418.4 1038.56,1344.7 1132.83,1300.7" fill="none" stroke="#000" stroke-width="1.3" stroke-linejoin="round"/>
<path d="M944.29 1393.5V1443.2M938.29 1393.5H950.29M938.29 1443.2H950.29M1038.56 1304.4V1385M1032.56 1304.4H1044.56M1032.56 1385H1044.56M1132.83 1258.5V1342.8M1126.83 1258.5H1138.83M1126.83 1342.8H1138.83" fill="none" stroke="#000" stroke-width="1.3"/>
<circle cx="850.02" cy="1547.1" r="10.6" fill="#fff" stroke="#000" stroke-width="1.3"/>
<circle cx="944.29" cy="1418.4" r="10.6" fill="#fff" stroke="#000" stroke-width="1.3"/>
<circle cx="1038.56" cy="1344.7" r="10.6" fill="#fff" stroke="#000" stroke-width="1.3"/>
<circle cx="1132.83" cy="1300.7" r="10.6" fill="#fff" stroke="#000" stroke-width="1.3"/>
<path d="M850.02 1566V1599.4M838.27 1566H861.77M838.27 1599.4H861.77M1038.56 1370.5V1416.2M1026.81 1370.5H1050.31M1026.81 1416.2H1050.31" fill="none" stroke="#000" stroke-width="2.2"/>
<polyline points="755.75,1698.65 850.02,1561.6 944.29,1356.4 1038.56,1354.2 1132.83,1265.7" fill="none" stroke="#000" stroke-width="1.3" stroke-linejoin="round"/>
<path d="M850.02 1542.7V1580.5M843.02 1542.7H857.02M843.02 1580.5H857.02M944.29 1318V1394.8M937.29 1318H951.29M937.29 1394.8H951.29M1038.56 1323.9V1384.4M1031.56 1323.9H1045.56M1031.56 1384.4H1045.56M1132.83 1237.1V1294.4M1125.83 1237.1H1139.83M1125.83 1294.4H1139.83" fill="none" stroke="#000" stroke-width="2.3"/>
<circle cx="850.02" cy="1561.6" r="11.25" fill="#000"/>
<circle cx="944.29" cy="1356.4" r="11.25" fill="#000"/>
<circle cx="1038.56" cy="1354.2" r="11.25" fill="#000"/>
<circle cx="1132.83" cy="1265.7" r="11.25" fill="#000"/>
<polyline points="755.75,1698.65 850.02,1582.7 944.29,1492.3 1038.56,1393.5 1132.83,1405.2" fill="none" stroke="#000" stroke-width="2.3" stroke-linejoin="round"/>
<circle cx="755.75" cy="1698.65" r="10.6" fill="#c0c0c0" stroke="#000" stroke-width="2.3"/>
<circle cx="850.02" cy="1582.7" r="10.6" fill="#c0c0c0" stroke="#000" stroke-width="2.3"/>
<circle cx="944.29" cy="1492.3" r="10.6" fill="#c0c0c0" stroke="#000" stroke-width="2.3"/>
<circle cx="1038.56" cy="1393.5" r="10.6" fill="#c0c0c0" stroke="#000" stroke-width="2.3"/>
<circle cx="1132.83" cy="1405.2" r="10.6" fill="#c0c0c0" stroke="#000" stroke-width="2.3"/>
<text class="pl" x="643.2" y="1243">J</text>
</g>
<g id="panel-K">
<path d="M1353 1227.65V1715.35M1335.7 1698.65H1824.35M1335.7 1620.15H1353M1335.7 1541.65H1353M1335.7 1463.15H1353M1335.7 1384.65H1353M1335.7 1306.15H1353M1335.7 1227.65H1353M1447.27 1698.65V1715.35M1541.54 1698.65V1715.35M1635.81 1698.65V1715.35M1730.08 1698.65V1715.35M1824.35 1698.65V1715.35" fill="none" stroke="#1c1c1c" stroke-width="1.4" stroke-linecap="round" stroke-linejoin="round"/>
<text x="1317.9" y="1710.55" text-anchor="end">0</text>
<text x="1317.1" y="1632.05" text-anchor="end">40</text>
<text x="1317.9" y="1553.55" text-anchor="end">80</text>
<text x="1317.9" y="1475.05" text-anchor="end">120</text>
<text x="1317.9" y="1396.55" text-anchor="end">160</text>
<text x="1317.9" y="1318.05" text-anchor="end">200</text>
<text x="1317.1" y="1239.55" text-anchor="end">240</text>
<text x="1353" y="1765.95" text-anchor="middle">0</text>
<text x="1447.27" y="1765.95" text-anchor="middle">1</text>
<text x="1541.54" y="1765.95" text-anchor="middle">2</text>
<text x="1635.81" y="1765.95" text-anchor="middle">3</text>
<text x="1730.08" y="1765.95" text-anchor="middle">4</text>
<text x="1824.35" y="1765.95" text-anchor="middle">5</text>
<polyline points="1353,1698.65 1447.27,1677.5 1541.54,1638.7 1635.81,1499.6 1730.08,1464.3" fill="none" stroke="#000" stroke-width="1.3" stroke-linejoin="round"/>
<path d="M1635.81 1463.4V1537.4M1629.81 1463.4H1641.81M1629.81 1537.4H1641.81M1730.08 1444.8V1485.1M1724.08 1444.8H1736.08M1724.08 1485.1H1736.08" fill="none" stroke="#000" stroke-width="1.3"/>
<circle cx="1447.27" cy="1677.5" r="10.6" fill="#fff" stroke="#000" stroke-width="1.3"/>
<circle cx="1541.54" cy="1638.7" r="10.6" fill="#fff" stroke="#000" stroke-width="1.3"/>
<circle cx="1635.81" cy="1499.6" r="10.6" fill="#fff" stroke="#000" stroke-width="1.3"/>
<circle cx="1730.08" cy="1464.3" r="10.6" fill="#fff" stroke="#000" stroke-width="1.3"/>
<path d="M1447.27 1662V1679.6M1435.52 1662H1459.02M1435.52 1679.6H1459.02M1635.81 1614.2V1631.8M1624.06 1614.2H1647.56M1624.06 1631.8H1647.56M1730.08 1501.2V1586.5M1718.33 1501.2H1741.83M1718.33 1586.5H1741.83" fill="none" stroke="#000" stroke-width="2.2"/>
<polyline points="1353,1698.65 1447.27,1681.5 1541.54,1589.9 1635.81,1295 1730.08,1335" fill="none" stroke="#000" stroke-width="1.3" stroke-linejoin="round"/>
<path d="M1730.08 1277.4V1392.2M1724.08 1277.4H1736.08M1724.08 1392.2H1736.08" fill="none" stroke="#000" stroke-width="1.3"/>
<circle cx="1447.27" cy="1681.5" r="11.25" fill="#000"/>
<circle cx="1541.54" cy="1589.9" r="11.25" fill="#000"/>
<circle cx="1635.81" cy="1295" r="11.25" fill="#000"/>
<circle cx="1730.08" cy="1335" r="11.25" fill="#000"/>
<polyline points="1353,1698.65 1447.27,1670.5 1541.54,1655.1 1635.81,1622.7 1730.08,1543.6" fill="none" stroke="#000" stroke-width="2.3" stroke-linejoin="round"/>
<circle cx="1353" cy="1698.65" r="10.6" fill="#c0c0c0" stroke="#000" stroke-width="2.3"/>
<circle cx="1447.27" cy="1670.5" r="10.6" fill="#c0c0c0" stroke="#000" stroke-width="2.3"/>
<circle cx="1541.54" cy="1655.1" r="10.6" fill="#c0c0c0" stroke="#000" stroke-width="2.3"/>
<circle cx="1635.81" cy="1622.7" r="10.6" fill="#c0c0c0" stroke="#000" stroke-width="2.3"/>
<circle cx="1730.08" cy="1543.6" r="10.6" fill="#c0c0c0" stroke="#000" stroke-width="2.3"/>
<text class="pl" x="1219.7" y="1243.4">K</text>
</g>
<g id="panel-L">
<path d="M1946 1227.65V1715.35M1928.7 1698.65H2417.35M1928.7 1604.45H1946M1928.7 1510.25H1946M1928.7 1416.05H1946M1928.7 1321.85H1946M1928.7 1227.65H1946M2040.27 1698.65V1715.35M2134.54 1698.65V1715.35M2228.81 1698.65V1715.35M2323.08 1698.65V1715.35M2417.35 1698.65V1715.35" fill="none" stroke="#1c1c1c" stroke-width="1.4" stroke-linecap="round" stroke-linejoin="round"/>
<text x="1910.9" y="1710.55" text-anchor="end">0</text>
<text x="1910.9" y="1616.35" text-anchor="end">200</text>
<text x="1910.1" y="1522.15" text-anchor="end">400</text>
<text x="1910.9" y="1427.95" text-anchor="end">600</text>
<text x="1910.9" y="1333.75" text-anchor="end">800</text>
<text x="1910.9" y="1239.55" text-anchor="end">1000</text>
<text x="1946" y="1765.95" text-anchor="middle">0</text>
<text x="2040.27" y="1765.95" text-anchor="middle">1</text>
<text x="2134.54" y="1765.95" text-anchor="middle">2</text>
<text x="2228.81" y="1765.95" text-anchor="middle">3</text>
<text x="2323.08" y="1765.95" text-anchor="middle">4</text>
<text x="2417.35" y="1765.95" text-anchor="middle">5</text>
<polyline points="1946,1698.65 2040.27,1694.7 2134.54,1670.5 2228.81,1637.4 2323.08,1511.5" fill="none" stroke="#000" stroke-width="1.3" stroke-linejoin="round"/>
<path d="M2323.08 1500.2V1522.9M2317.08 1500.2H2329.08M2317.08 1522.9H2329.08" fill="none" stroke="#000" stroke-width="1.3"/>
<circle cx="2040.27" cy="1694.7" r="10.6" fill="#fff" stroke="#000" stroke-width="1.3"/>
<circle cx="2134.54" cy="1670.5" r="10.6" fill="#fff" stroke="#000" stroke-width="1.3"/>
<circle cx="2228.81" cy="1637.4" r="10.6" fill="#fff" stroke="#000" stroke-width="1.3"/>
<circle cx="2323.08" cy="1511.5" r="10.6" fill="#fff" stroke="#000" stroke-width="1.3"/>
<path d="M2228.81 1651.3V1668M2217.06 1651.3H2240.56M2217.06 1668H2240.56M2323.08 1573.5V1612.6M2311.33 1573.5H2334.83M2311.33 1612.6H2334.83" fill="none" stroke="#000" stroke-width="2.2"/>
<polyline points="1946,1698.65 2040.27,1691 2134.54,1643.4 2228.81,1351.6 2323.08,1282.4" fill="none" stroke="#000" stroke-width="1.3" stroke-linejoin="round"/>
<path d="M2228.81 1311.7V1391.9M2222.81 1311.7H2234.81M2222.81 1391.9H2234.81M2323.08 1252.8V1311.7M2317.08 1252.8H2329.08M2317.08 1311.7H2329.08" fill="none" stroke="#000" stroke-width="1.3"/>
<circle cx="2040.27" cy="1691" r="11.25" fill="#000"/>
<circle cx="2134.54" cy="1643.4" r="11.25" fill="#000"/>
<circle cx="2228.81" cy="1351.6" r="11.25" fill="#000"/>
<circle cx="2323.08" cy="1282.4" r="11.25" fill="#000"/>
<polyline points="1946,1698.65 2040.27,1690.6 2134.54,1682.1 2228.81,1659.5 2323.08,1592.7" fill="none" stroke="#000" stroke-width="2.3" stroke-linejoin="round"/>
<circle cx="1946" cy="1698.65" r="10.6" fill="#c0c0c0" stroke="#000" stroke-width="2.3"/>
<circle cx="2040.27" cy="1690.6" r="10.6" fill="#c0c0c0" stroke="#000" stroke-width="2.3"/>
<circle cx="2134.54" cy="1682.1" r="10.6" fill="#c0c0c0" stroke="#000" stroke-width="2.3"/>
<circle cx="2228.81" cy="1659.5" r="10.6" fill="#c0c0c0" stroke="#000" stroke-width="2.3"/>
<circle cx="2323.08" cy="1592.7" r="10.6" fill="#c0c0c0" stroke="#000" stroke-width="2.3"/>
<text class="pl" x="1802.7" y="1243.6">L</text>
</g>
<text x="363.6" y="26.7">Control</text>
<text x="928.2" y="35.9">Glucose</text>
<text x="1520.8" y="33.6">Seagrass</text>
<text x="2109.3" y="35.9">Mangrove</text>
<text x="212.9" y="1813.5">Incubation time (days)</text>
<text x="850.8" y="1814.7">Incubation time (days)</text>
<text x="1410.4" y="1818">Incubation time (days)</text>
<text x="2010.9" y="1829.2">Incubation time (days)</text>
<text transform="translate(38.7,447.2) rotate(-90)">APase (nmol&#160;&#160;L<tspan font-size="23" dy="-18.5">-1</tspan><tspan dy="18.5"> h</tspan><tspan font-size="23" dy="-18.5">-1</tspan><tspan dy="18.5">)</tspan></text>
<text transform="translate(56.8,1047) rotate(-90)">BGase (nmol L<tspan font-size="23" dy="-18.5">-1</tspan><tspan dy="18.5"> h</tspan><tspan font-size="23" dy="-18.5">-1</tspan><tspan dy="18.5">)</tspan></text>
<text transform="translate(46.9,1620) rotate(-90)">LAPase(nmol L<tspan font-size="23" dy="-18.5">-1</tspan><tspan dy="18.5"> h</tspan><tspan font-size="23" dy="-18.5">-1</tspan><tspan dy="18.5">)</tspan></text>
<g id="legend">
<path d="M2304.5 18.1H2386.8" stroke="#000" stroke-width="2.3"/>
<circle cx="2345.7" cy="18.1" r="10.6" fill="#c0c0c0" stroke="#000" stroke-width="2.3"/>
<path d="M2304.5 63H2386.8" stroke="#000" stroke-width="1.3"/>
<circle cx="2345.7" cy="63" r="10.6" fill="#fff" stroke="#000" stroke-width="1.3"/>
<path d="M2304.5 108.4H2386.8" stroke="#000" stroke-width="1.3"/>
<circle cx="2345.7" cy="108.4" r="11.25" fill="#000"/>
<text x="2415.4" y="29.9">-3C</text>
<text x="2407.2" y="74.8">In situ</text>
<text x="2406.4" y="119.7">+3C</text>
</g>
</svg></body></html>
